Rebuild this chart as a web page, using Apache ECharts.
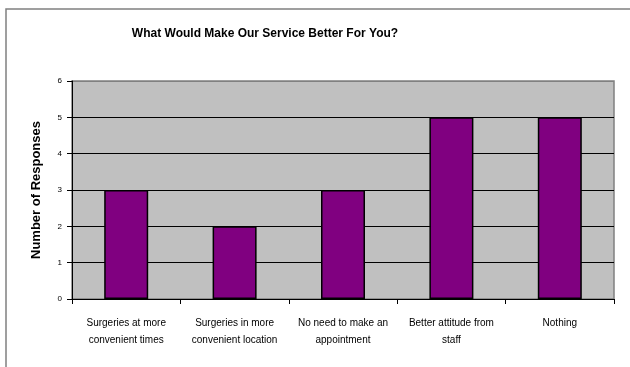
<!DOCTYPE html>
<html>
<head>
<meta charset="utf-8">
<script src="https://cdn.jsdelivr.net/npm/echarts@6/dist/echarts.min.js"></script>
<style>
  html, body { margin: 0; padding: 0; background: #fff; }
  #chart { width: 630px; height: 367px; }
</style>
</head>
<body>
<div id="chart"></div>
<script>
// Survey answers and how many people gave each one
const categories = [
  'Surgeries at more\nconvenient times',
  'Surgeries in more\nconvenient location',
  'No need to make an\nappointment',
  'Better attitude from\nstaff',
  'Nothing'
];
const responses = [3, 2, 3, 5, 5];
const yTicks = [0, 1, 2, 3, 4, 5, 6];

const chart = echarts.init(document.getElementById('chart'));

chart.setOption({
  animation: false,
  backgroundColor: '#ffffff',
  graphic: [
    {
      // outer chart frame (runs off the right and bottom edges)
      type: 'rect',
      shape: { x: 6, y: 9, width: 700, height: 400 },
      style: { fill: 'none', stroke: '#808080', lineWidth: 1.5 },
      silent: true,
      z: -1
    }
  ],
  title: {
    text: 'What Would Make Our Service Better For You?',
    left: 260,
    top: 23,
    textAlign: 'center',
    textStyle: {
      fontFamily: 'Liberation Sans, Arial, sans-serif',
      fontSize: 12,
      fontWeight: 'bold',
      color: '#000'
    }
  },
  grid: {
    left: 72,
    right: 16,
    top: 81,
    bottom: 68,
    show: true,
    backgroundColor: '#c0c0c0',
    borderColor: '#808080',
    borderWidth: 1.5
  },
  xAxis: {
    type: 'category',
    data: categories,
    axisLine: { lineStyle: { color: '#000', width: 1 } },
    axisTick: { show: true, length: 5, alignWithLabel: false, lineStyle: { color: '#000' } },
    axisLabel: {
      interval: 0,
      margin: 16,
      lineHeight: 17,
      fontFamily: 'Liberation Sans, Arial, sans-serif',
      fontSize: 10,
      color: '#000'
    }
  },
  yAxis: {
    type: 'value',
    min: yTicks[0],
    max: yTicks[yTicks.length - 1],
    interval: 1,
    name: 'Number of Responses',
    nameLocation: 'middle',
    nameGap: 29,
    nameRotate: 90,
    nameTextStyle: {
      fontFamily: 'Liberation Sans, Arial, sans-serif',
      fontSize: 13,
      fontWeight: 'bold',
      color: '#000'
    },
    axisLine: { show: true, lineStyle: { color: '#000', width: 1 } },
    axisTick: { show: true, length: 5, lineStyle: { color: '#000' } },
    axisLabel: {
      margin: 10,
      fontFamily: 'Liberation Sans, Arial, sans-serif',
      fontSize: 8,
      color: '#000'
    },
    splitLine: {
      show: true,
      lineStyle: { color: ['#000', '#000', '#000', '#000', '#000', '#000', '#808080'], width: 1 }
    }
  },
  series: [
    {
      type: 'bar',
      data: responses,
      barWidth: 44,
      itemStyle: {
        color: '#800080',
        borderColor: '#000',
        borderWidth: 1.5
      }
    }
  ]
});
</script>
</body>
</html>
